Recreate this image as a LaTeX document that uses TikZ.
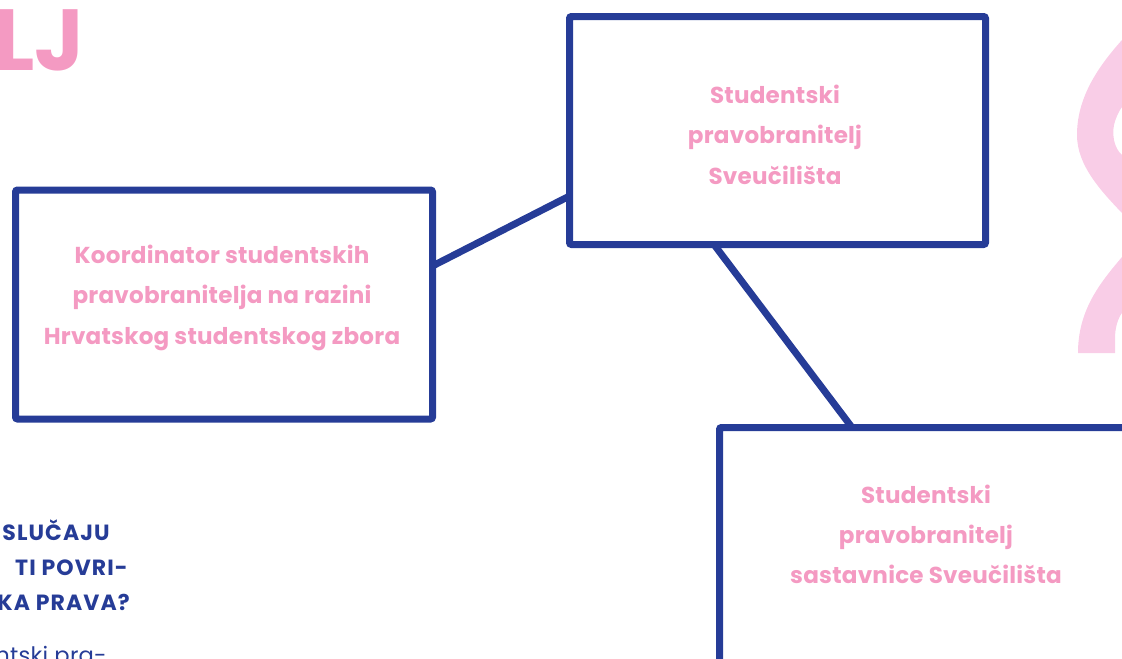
\documentclass[tikz,border=0pt]{standalone}
\usepackage{fontspec}
\setmainfont{Poppins}
\usetikzlibrary{calc}
\definecolor{pinktxt}{HTML}{F49AC2}
\definecolor{navy}{HTML}{263C97}
\definecolor{lightpink}{HTML}{F9CDE7}
\tikzset{
  box/.style={draw=navy, line width=5.25pt, rounded corners=1.5pt, inner sep=0pt, outer sep=0pt},
  conn/.style={draw=navy, line width=5.25pt},
  pinkline/.style={text=pinktxt, font=\fontsize{17.3}{20}\selectfont\bfseries\addfontfeature{LetterSpace=1}, anchor=base, inner sep=0pt},
  blueline/.style={text=navy, font=\fontsize{16.5}{20}\selectfont\bfseries\addfontfeature{LetterSpace=5}, anchor=base east, inner sep=0pt},
}
\begin{document}
\begin{tikzpicture}[x=0.75pt,y=-0.75pt]
\useasboundingbox (0,0) rectangle (1122,658);
\clip (0,0) rectangle (1122,658);
% decorative pink curve (right edge)
\fill[lightpink] (1122,40) .. controls (1095,70) and (1077,100) .. (1077,135)
  .. controls (1077,165) and (1100,190) .. (1122,213) -- (1122,155)
  .. controls (1114,148) and (1112,135) .. (1114,125)
  .. controls (1116,117) and (1119,111) .. (1122,107) -- cycle;
\fill[lightpink] (1122,257) .. controls (1100,283) and (1078,310) .. (1078,353)
  -- (1115,353) -- (1115,338) .. controls (1115,328) and (1118,318) .. (1122,313) -- cycle;
% big title fragment
\node[text=pinktxt, font=\fontsize{65}{70}\selectfont\bfseries, anchor=base east, inner sep=0pt] (title) at (85,70.5) {LJ};
% boxes
\node[box, minimum width=312.75pt, minimum height=171.75pt] (b1) at (224,304.5) {};
\node[box, minimum width=312pt, minimum height=171pt] (b2) at (777.5,130.5) {};
\node[box, minimum width=360pt, minimum height=204pt, anchor=north west] (b3) at (719.5,427.5) {};
% connectors
\draw[conn] ($(b1.east)+(0,-38.5)$) -- ($(b2.west)+(0,65.5)$);
\draw[conn] ($(b2.south)+(-63.5,0)$) -- ($(b3.north west)+(132.5,0)$);
% box texts
\node[pinkline] (t11) at (222,263.5) {Koordinator studentskih};
\node[pinkline] (t12) at (222,303.5) {pravobranitelja na razini};
\node[pinkline] (t13) at (222,344) {Hrvatskog studentskog zbora};
\node[pinkline] (t21) at (775,103.5) {Studentski};
\node[pinkline] (t22) at (775,143.5) {pravobranitelj};
\node[pinkline] (t23) at (775,184) {Sveučilišta};
\node[pinkline] (t31) at (926,503) {Studentski};
\node[pinkline] (t32) at (926,543) {pravobranitelj};
\node[pinkline] (t33) at (926,583.5) {sastavnice Sveučilišta};
% blue question fragment
\node[blueline] (q1) at (110,540) {SLUČAJU};
\node[blueline] (q2) at (128,575) {TI POVRI-};
\node[blueline] (q3) at (130,610) {KA PRAVA?};
\node[text=navy, font=\fontsize{17}{20}\selectfont\addfontfeature{LetterSpace=1}, anchor=base east, inner sep=0pt] (q4) at (107,663) {ntski pra-};
\end{tikzpicture}
\end{document}
